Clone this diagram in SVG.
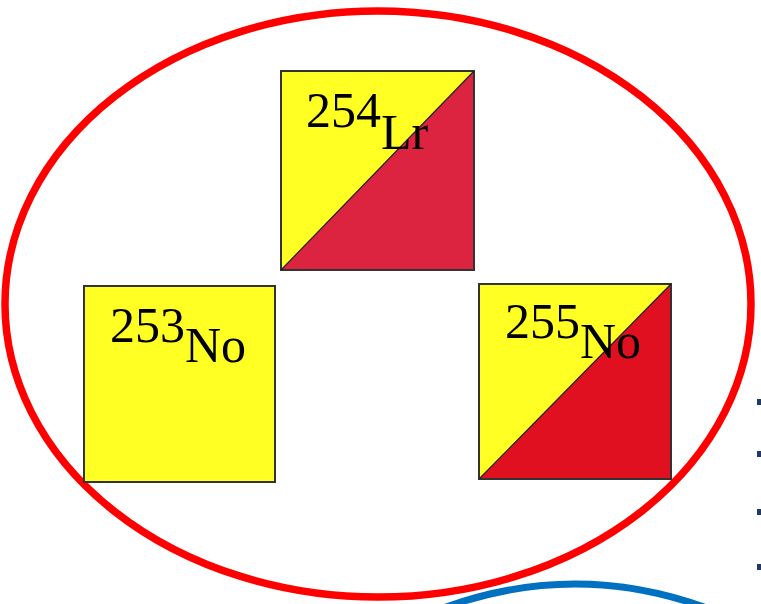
<svg xmlns="http://www.w3.org/2000/svg" width="761" height="604" viewBox="0 0 761 604">
<style>
.box{stroke:#333;stroke-width:2}
.yel{fill:#FFFF24}
.lbl{font-family:"Liberation Serif","Times New Roman",serif;font-size:50px;fill:#000}
.dot{fill:#1F3864}
</style>
<rect width="761" height="604" fill="#fff"/>
<g id="connectors">
<ellipse cx="378" cy="304" rx="373" ry="293" fill="none" stroke="#FF0000" stroke-width="7.5"/>
<path d="M 438 610 Q 575 558 712 610" fill="none" stroke="#0070C0" stroke-width="7"/>
</g>
<g id="n254">
<rect class="yel" x="281" y="71" width="193" height="199"/>
<polygon points="281,270 474,71 474,270" fill="#DC2340"/>
<rect class="box" x="281" y="71" width="193" height="199" fill="none"/>
<line x1="281" y1="270" x2="474" y2="71" stroke="#222" stroke-width="1.2"/>
<text class="lbl" x="306" y="127">254<tspan dy="22">Lr</tspan></text>
</g>
<g id="n253">
<rect class="yel box" x="84" y="286" width="191" height="196"/>
<text class="lbl" x="110" y="342">253<tspan dy="20">No</tspan></text>
</g>
<g id="n255">
<rect class="yel" x="479" y="284" width="192" height="195"/>
<polygon points="479,479 671,284 671,479" fill="#E01020"/>
<rect class="box" x="479" y="284" width="192" height="195" fill="none"/>
<line x1="479" y1="479" x2="671" y2="284" stroke="#222" stroke-width="1.2"/>
<text class="lbl" x="505" y="338">255<tspan dy="20">No</tspan></text>
</g>
<g id="edge-marks">
<rect class="dot" x="757" y="399" width="4" height="6"/>
<rect class="dot" x="757" y="451" width="4" height="6"/>
<rect class="dot" x="757" y="509" width="4" height="6"/>
<rect class="dot" x="757" y="564" width="4" height="6"/>
</g>
</svg>
